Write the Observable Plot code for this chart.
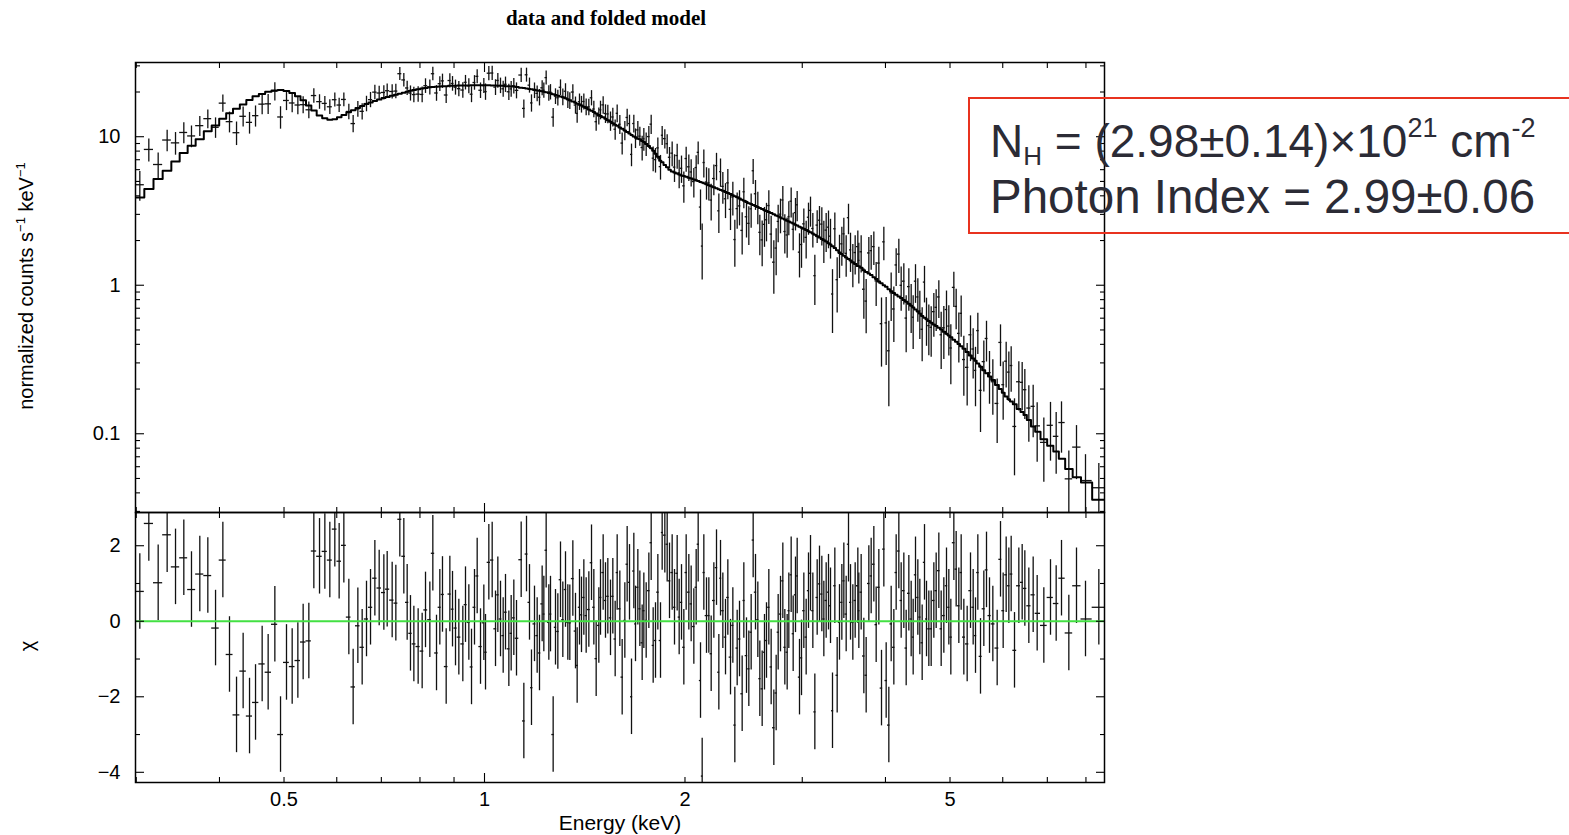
<!DOCTYPE html>
<html><head><meta charset="utf-8">
<script src="https://cdn.jsdelivr.net/npm/d3@7"></script>
<script src="https://cdn.jsdelivr.net/npm/@observablehq/plot@0.6"></script>
<style>
html,body{margin:0;padding:0;background:#fff;}
#page{position:relative;width:1569px;height:835px;overflow:hidden;background:#fff;font-family:"Liberation Sans",Arial,Helvetica,sans-serif;color:#000;}
.layer{position:absolute;left:0;top:0;}
.txt{position:absolute;white-space:nowrap;line-height:1;}
.sup{font-size:13px;vertical-align:8px;line-height:0;}
</style></head><body><div id="page">
<div class="layer" id="topPlot"></div>
<div class="layer" id="botPlot"></div>
<div class="txt" style="left:606px;top:8px;transform:translateX(-50%);font:bold 21px 'Liberation Serif','Times New Roman',serif;line-height:1;">data and folded model</div>
<div class="txt" style="left:26px;top:286px;transform:translate(-50%,-50%) rotate(-90deg);font-size:20px;">normalized counts s<span class="sup">−1</span> keV<span class="sup">−1</span></div>
<div class="txt" style="left:27px;top:646px;transform:translate(-50%,-50%) rotate(-90deg);font-size:20px;">χ</div>
<div class="txt" style="left:620px;top:812px;transform:translateX(-50%);font-size:21px;">Energy (keV)</div>
<div style="position:absolute;left:968px;top:97px;width:680px;height:137px;box-sizing:border-box;border:2px solid #e8321f;"></div>
<div class="txt" style="left:990px;top:118px;font-size:46px;color:#2b2b35;">N<span style="font-size:26px;vertical-align:-8px;line-height:0;">H</span> = (2.98±0.14)×10<span style="font-size:27px;vertical-align:20px;line-height:0;">21</span> cm<span style="font-size:27px;vertical-align:20px;line-height:0;">-2</span></div>
<div class="txt" style="left:990px;top:173px;font-size:47.5px;color:#2b2b35;">Photon Index = 2.99±0.06</div>
</div>
<script>
// ---- data (bin centre energy in keV) ----
const energy = [
0.3037,0.3133,0.3236,0.3338,0.3436,0.3536,0.3631,0.3737,0.3842,0.3946,0.4047,0.4141,0.4243,0.4341,0.4438,0.4531,0.4636,0.4733,0.4844,0.4940,
0.5043,0.5143,0.5245,0.5342,0.5448,0.5543,0.5653,0.5758,0.5858,0.5960,0.6050,0.6149,0.6256,0.6350,0.6454,0.6551,0.6650,0.6743,0.6845,0.6948,
0.7061,0.7143,0.7267,0.7360,0.7462,0.7566,0.7654,0.7742,0.7833,0.7950,0.8061,0.8155,0.8278,0.8364,0.8471,0.8569,0.8648,0.8759,0.8871,0.8953,
0.9046,0.9151,0.9278,0.9364,0.9473,0.9561,0.9660,0.9750,0.9863,0.9977,
1.0035,1.0151,1.0269,1.0388,1.0472,1.0569,1.0667,1.0753,1.0878,1.0966,1.1067,1.1170,1.1352,1.1457,1.1563,1.1683,1.1764,1.1887,1.1997,1.2094,
1.2206,1.2277,1.2376,1.2491,1.2563,1.2679,1.2782,1.2886,1.3005,1.3110,1.3232,1.3339,1.3431,1.3572,1.3697,1.3776,1.3888,1.3984,1.4098,1.4212,
1.4344,1.4477,1.4594,1.4712,1.4848,1.4934,1.5072,1.5194,1.5317,1.5459,1.5584,1.5711,1.5820,1.5966,1.6096,1.6245,1.6376,1.6509,1.6624,1.6758,
1.6855,1.6992,1.7110,1.7248,1.7348,1.7489,1.7651,1.7794,1.7917,1.8062,1.8209,1.8377,1.8483,1.8654,1.8806,1.8958,1.9133,1.9288,1.9467,1.9602,
1.9761,1.9921,2.0082,2.0268,2.0432,2.0622,2.0789,2.0933,2.1103,2.1225,2.1347,2.1545,2.1720,2.1896,2.2099,2.2303,2.2484,2.2614,2.2797,2.3008,
2.3194,2.3409,2.3599,2.3762,2.3955,2.4149,2.4372,2.4513,2.4740,2.4940,2.5142,2.5317,2.5522,2.5728,2.5907,2.6117,2.6328,2.6511,2.6726,2.6942,
2.7192,2.7412,2.7603,2.7826,2.8051,2.8246,2.8475,2.8639,2.8871,2.9072,2.9307,2.9477,2.9716,2.9922,3.0164,3.0408,3.0655,3.0868,3.1118,3.1334,
3.1588,3.1843,3.2101,3.2324,3.2586,3.2850,3.3078,3.3307,3.3577,3.3849,3.4123,3.4400,3.4638,3.4919,3.5202,3.5446,3.5733,3.6023,3.6356,
3.6482,3.6777,3.7118,3.7418,3.7765,3.8071,3.8424,3.8735,3.9094,3.9456,3.9776,4.0098,4.0469,4.0797,4.1175,4.1508,4.1893,4.2232,4.2623,4.2969,
4.3367,4.3718,4.4021,4.4378,4.4737,4.5047,4.5412,4.5780,4.6098,4.6471,4.6848,4.7282,4.7665,4.8106,4.8496,4.8945,4.9398,4.9798,5.0144,5.0667,
5.1077,5.1550,5.1968,5.2449,5.3057,5.3672,5.4169,5.4608,5.5050,5.5560,5.6204,5.6725,5.7316,5.7981,5.8856,5.9538,6.0090,6.0716,6.1279,6.1775,
6.2491,6.3434,6.4170,6.4764,6.5665,6.6657,6.7585,6.9161,7.0773,7.2174,7.3517,7.5405,7.7430,7.9877,8.3645];

// folded model (normalized counts s^-1 keV^-1)
const modelRate = [
3.9,4.45,5.19,5.9,6.82,7.77,8.7,9.6,10.9,11.9,13.2,14.4,15.4,16.5,17.7,18.7,19.4,20.1,20.5,20.6,
20.3,19.7,18.7,17.6,16.2,15.0,13.9,13.3,13.0,13.1,13.5,14.0,14.6,15.1,15.6,16.1,16.6,17.0,17.4,17.8,
18.2,18.5,18.9,19.2,19.5,19.8,20.1,20.4,20.6,20.9,21.1,21.3,21.5,21.6,21.7,21.8,21.9,21.9,22.0,22.0,
22.0,22.1,22.1,22.1,22.1,22.2,22.2,22.2,22.2,22.2,
22.2,22.2,22.1,22.1,22.0,22.0,22.0,21.9,21.9,21.8,21.8,21.65,21.4,21.25,21.1,20.95,20.85,20.7,20.5,20.4,
20.2,20.1,19.95,19.75,19.6,19.35,19.1,18.9,18.65,18.45,18.15,17.85,17.6,17.25,16.9,16.7,16.4,16.2,15.9,15.6,
15.25,14.95,14.65,14.35,14.0,13.8,13.5,13.2,12.9,12.6,12.3,12.05,11.85,11.55,11.3,11.0,10.75,10.5,10.25,10.05,
9.9,9.7,9.6,9.37,9.2,8.94,8.66,8.37,8.05,7.68,7.32,6.89,6.72,6.46,6.22,6.0,5.84,5.75,5.65,5.57,
5.49,5.43,5.37,5.29,5.23,5.15,5.09,5.03,4.96,4.91,4.86,4.78,4.71,4.64,4.56,4.49,4.43,4.38,4.32,4.24,
4.18,4.11,4.04,3.98,3.91,3.84,3.76,3.71,3.63,3.57,3.52,3.47,3.41,3.36,3.31,3.26,3.20,3.16,3.11,3.06,
3.00,2.95,2.91,2.86,2.81,2.77,2.72,2.69,2.64,2.60,2.55,2.52,2.48,2.44,2.40,2.35,2.31,2.27,2.23,2.19,
2.14,2.10,2.05,2.01,1.97,1.92,1.88,1.83,1.78,1.72,1.66,1.62,1.58,1.54,1.50,1.47,1.43,1.39,1.35,
1.34,1.31,1.26,1.23,1.20,1.17,1.13,1.10,1.06,1.03,1.00,0.975,0.94,0.912,0.886,0.864,0.841,0.82,0.796,0.775,
0.75,0.727,0.708,0.686,0.665,0.645,0.62,0.603,0.59,0.575,0.56,0.545,0.531,0.517,0.503,0.487,0.472,0.458,0.447,0.43,
0.417,0.402,0.388,0.373,0.355,0.336,0.321,0.31,0.297,0.283,0.268,0.256,0.243,0.23,0.213,0.2,0.189,0.178,0.171,0.165,
0.158,0.147,0.14,0.134,0.124,0.112,0.103,0.092,0.083,0.076,0.068,0.058,0.051,0.047,0.036];

// observed data points
const dataRate = [
4.75,8.21,6.50,9.50,9.09,10.68,10.12,11.87,13.23,11.57,16.83,12.63,10.64,13.72,12.49,13.86,16.57,16.65,20.27,13.58,
17.54,16.87,16.35,16.43,15.18,18.93,17.23,16.76,15.91,17.75,16.34,17.82,14.79,12.26,15.38,14.82,16.72,17.77,19.96,19.69,
19.86,20.40,20.16,20.29,26.57,24.12,21.29,19.67,19.22,19.35,19.26,22.05,21.60,26.56,19.70,22.75,23.76,19.09,23.90,22.83,
21.55,21.06,20.62,23.25,22.02,19.33,23.17,25.49,20.55,22.10,
20.12,26.77,26.84,21.57,23.93,22.16,21.02,22.54,20.07,20.98,22.04,20.51,26.02,15.51,26.12,22.24,16.89,20.53,19.58,18.44,
21.35,20.56,25.0,19.68,20.05,13.54,18.74,18.30,21.52,18.55,20.24,17.78,17.51,19.99,16.34,14.35,17.21,16.56,17.26,15.91,
15.88,18.28,15.37,12.62,13.80,15.17,16.38,14.34,14.24,12.77,13.58,11.23,14.38,12.13,9.06,11.03,13.48,12.26,7.60,12.27,
9.80,11.11,10.09,8.46,9.68,8.97,10.02,12.15,7.17,7.01,8.41,6.29,10.23,9.71,8.97,7.27,7.75,6.24,7.47,5.71,
6.13,4.67,7.13,6.27,5.79,4.99,6.20,7.85,3.36,1.835,6.70,4.96,4.89,3.745,5.23,6.39,3.17,5.82,4.63,3.82,
4.89,3.245,3.93,2.03,3.28,3.42,2.34,4.26,2.89,2.61,3.27,5.90,4.13,3.39,2.27,2.02,2.57,2.76,3.44,2.21,
1.43,1.78,2.69,3.01,3.75,2.30,2.18,2.90,3.68,2.38,3.08,3.48,1.67,1.88,2.59,2.10,2.87,3.19,2.41,1.16,
2.54,2.74,2.58,2.05,2.35,2.46,2.14,0.873,2.40,1.09,1.64,1.90,2.22,1.64,2.85,1.73,1.42,1.66,1.82,
1.47,1.68,0.940,0.782,1.65,1.71,1.82,1.07,1.41,0.551,1.96,0.558,0.362,0.889,0.692,1.37,1.62,0.999,1.065,0.601,
0.979,0.743,0.609,1.065,0.834,0.671,0.505,1.05,0.603,0.535,0.521,0.664,0.710,0.834,0.464,0.517,0.686,0.531,0.378,0.967,
0.720,0.474,0.647,0.316,0.280,0.464,0.372,0.267,0.495,0.196,0.306,0.438,0.258,0.224,0.160,0.412,0.214,0.308,0.260,0.288,
0.112,0.224,0.222,0.198,0.149,0.153,0.113,0.0875,0.114,0.0961,0.119,0.0497,0.0813,0.0484,0.0433];

// 1-sigma error on each data point
const dataErr = [
1.08,1.45,1.28,1.57,1.58,1.73,1.69,1.82,1.92,1.82,2.24,2.02,1.92,2.11,2.08,2.25,2.51,2.56,2.85,2.34,
2.55,2.37,2.27,2.13,1.96,2.11,1.94,1.87,1.80,1.91,1.78,1.90,1.76,1.63,1.86,1.85,2.00,2.09,2.24,2.15,
2.19,2.23,2.25,2.27,2.62,2.51,2.38,2.30,2.29,2.31,2.32,2.49,2.48,2.76,2.38,2.56,2.62,2.35,2.64,2.58,
2.50,2.48,2.46,2.61,2.54,2.38,2.61,2.74,2.46,2.55,
2.54,2.93,2.92,2.62,2.75,2.65,2.58,2.67,2.52,2.57,2.63,2.53,2.83,2.18,2.82,2.59,2.25,2.47,2.40,2.33,
2.49,2.44,2.68,2.37,2.38,1.94,2.27,2.23,2.61,2.41,2.49,2.32,2.28,2.41,2.16,2.01,2.18,2.13,2.15,2.05,
2.02,2.15,1.95,1.75,1.81,2.17,2.23,2.06,2.03,1.90,1.94,1.75,1.96,1.78,1.52,1.65,1.81,1.70,1.32,1.67,
1.48,1.56,1.48,1.60,1.70,1.61,1.68,1.82,1.37,1.32,1.41,1.19,1.49,1.43,1.34,1.19,1.48,1.32,1.43,1.24,
1.28,1.11,1.36,1.27,1.21,1.12,1.24,1.38,1.02,0.75,1.43,1.22,1.20,1.04,1.22,1.34,0.94,1.26,1.12,1.01,
1.13,0.91,1.00,0.71,0.90,0.91,0.74,0.99,0.81,0.76,0.85,1.13,0.94,0.84,0.69,0.69,0.77,0.80,0.88,0.70,
0.56,0.62,0.76,0.79,0.88,0.68,0.66,0.75,0.84,0.67,0.76,0.80,0.55,0.58,0.67,0.60,0.70,0.73,0.63,0.43,
0.63,0.65,0.74,0.65,0.69,0.70,0.64,0.40,0.66,0.44,0.53,0.56,0.60,0.51,0.66,0.51,0.46,0.49,0.50,
0.45,0.47,0.35,0.31,0.45,0.45,0.46,0.35,0.39,0.27,0.50,0.27,0.21,0.32,0.28,0.39,0.42,0.33,0.33,0.25,
0.31,0.27,0.24,0.31,0.27,0.24,0.20,0.29,0.215,0.20,0.194,0.217,0.221,0.236,0.193,0.201,0.228,0.197,0.164,0.258,
0.219,0.175,0.200,0.137,0.126,0.158,0.138,0.115,0.153,0.094,0.115,0.134,0.100,0.0907,0.0739,0.129,0.0906,0.105,0.0949,0.098,
0.0599,0.0816,0.0793,0.0733,0.0612,0.059,0.0486,0.0404,0.0486,0.0427,0.045,0.0268,0.0322,0.0239,0.0197];

// residuals (chi)
const chiValue = [
0.79,2.59,1.02,2.29,1.44,1.68,0.84,1.25,1.21,-0.18,1.62,-0.88,-2.48,-1.32,-2.51,-2.15,-1.13,-1.35,-0.08,-3.0,
-1.09,-1.2,-1.04,-0.55,-0.52,1.86,1.72,1.85,1.62,2.44,1.59,2.01,0.11,-1.74,-0.12,-0.69,0.06,0.37,1.14,0.88,
0.76,0.85,0.56,0.48,2.7,1.72,0.5,-0.32,-0.6,-0.67,-0.79,0.3,0.04,1.8,-0.84,0.37,0.71,-1.2,0.72,0.32,
-0.18,-0.42,-0.6,0.44,-0.03,-1.21,0.37,1.2,-0.67,-0.04,
-0.82,1.56,1.62,-0.2,0.7,0.06,-0.38,0.24,-0.73,-0.32,0.09,-0.45,1.63,-2.64,1.78,0.5,-1.76,-0.07,-0.38,-0.84,
0.46,0.19,1.88,-0.03,0.19,-3.0,-0.16,-0.27,1.1,0.04,0.84,-0.03,-0.04,1.13,-0.26,-1.17,0.37,0.17,0.63,0.15,
0.31,1.55,0.37,-0.99,-0.11,0.63,1.29,0.55,0.66,0.09,0.66,-0.47,1.29,0.33,-1.48,0.02,1.51,1.03,-2.0,1.33,
-0.07,0.9,0.33,-0.57,0.28,0.02,0.81,2.08,-0.64,-0.51,0.77,-0.51,2.35,2.28,2.04,1.07,1.29,0.37,1.27,0.11,
0.5,-0.69,1.29,0.77,0.46,-0.14,0.9,2.04,-1.57,-4.1,1.29,0.15,0.15,-0.86,0.55,1.42,-1.35,1.14,0.28,-0.42,
0.63,-0.95,-0.11,-2.75,-0.71,-0.47,-1.92,0.55,-0.91,-1.26,-0.29,2.15,0.77,0.04,-1.52,-1.79,-0.82,-0.51,0.37,-1.21,
-2.82,-1.9,-0.29,0.19,1.07,-0.69,-0.82,0.28,1.23,-0.33,0.7,1.2,-1.48,-0.97,0.28,-0.42,0.81,1.27,0.28,-2.4,
0.63,0.99,0.72,0.06,0.55,0.77,0.41,-2.37,0.94,-1.43,-0.03,0.5,1.07,0.19,2.04,0.5,-0.03,0.55,0.94,
0.28,0.77,-0.92,-1.43,1.0,1.2,1.51,-0.09,0.9,-1.77,1.91,-1.57,-2.75,-0.07,-0.69,1.29,1.86,0.55,0.81,-0.71,
0.74,0.06,-0.42,1.23,0.63,0.11,-0.57,1.56,0.06,-0.2,-0.2,0.55,0.81,1.34,-0.2,0.15,0.94,0.37,-0.42,2.08,
1.38,0.41,1.29,-0.42,-0.6,0.81,0.37,-0.38,1.29,-0.93,0.33,1.36,0.15,-0.07,-0.71,1.64,0.28,1.23,0.94,1.25,
-0.77,0.94,1.03,0.87,0.41,0.7,0.21,-0.11,0.63,0.47,1.14,-0.31,0.94,0.06,0.37];

// tick values / labels
const xMajorTicks = [1];
const xMinorTicks = [0.3,0.4,0.5,0.6,0.7,0.8,0.9,2,3,4,5,6,7,8];
const xTickLabels = [0.5,1,2,5];
const rateMajorTicks = [0.1,1,10];
const rateMinorTicks = [0.03,0.04,0.05,0.06,0.07,0.08,0.09,0.2,0.3,0.4,0.5,0.6,0.7,0.8,0.9,2,3,4,5,6,7,8,9,20,30];
const rateTickLabels = [0.1,1,10];
const chiMajorTicks = [-4,-2,0,2];
const chiMinorTicks = [-3,-1,1];
const chiTickLabels = [-4,-2,0,2];

// ---- build bins (edges at geometric midpoints between centres) ----
const n = energy.length;
const bins = energy.map((e, i) => {
  const lo = i > 0 ? Math.sqrt(energy[i - 1] * e) : e / Math.sqrt(energy[1] / e);
  const hi = i < n - 1 ? Math.sqrt(e * energy[i + 1]) : e * Math.sqrt(e / energy[i - 1]);
  return {e, lo, hi, model: modelRate[i], rate: dataRate[i], err: dataErr[i], chi: chiValue[i]};
});
const modelSteps = bins.flatMap(b => [{x: b.lo, y: b.model}, {x: b.hi, y: b.model}]);

const xDomain = [0.2992, 8.53];
const fontFamily = '"Liberation Sans", Arial, Helvetica, sans-serif';
const minus = d => d < 0 ? "\u2212" + (-d) : String(d);

function boxTicks(xs, ys, len) {
  const o = {fill: "none", label: null, tickSize: len, strokeWidth: 1.1};
  return [
    Plot.axisX(xs, {...o, anchor: "bottom", dy: -len}),
    Plot.axisX(xs, {...o, anchor: "top", dy: len}),
    Plot.axisY(ys, {...o, anchor: "left", dx: len}),
    Plot.axisY(ys, {...o, anchor: "right", dx: -len})
  ];
}

const common = {
  width: 1569, height: 835, marginLeft: 135, marginRight: 465,
  style: {background: "transparent", fontFamily, color: "#000", overflow: "visible"}
};

const barStyle = {stroke: "#111", strokeWidth: 1.3, clip: true};

const topSvg = Plot.plot({
  ...common,
  marginTop: 62, marginBottom: 323,
  x: {type: "log", domain: xDomain, label: null},
  y: {type: "log", domain: [0.0295, 31.6], label: null},
  marks: [
    Plot.ruleX(bins, {x: "e", y1: d => d.rate - d.err, y2: d => d.rate + d.err, ...barStyle}),
    Plot.ruleY(bins, {y: "rate", x1: "lo", x2: "hi", ...barStyle}),
    Plot.line(modelSteps, {x: "x", y: "y", stroke: "#000", strokeWidth: 2, clip: true}),
    Plot.frame({stroke: "#000", strokeWidth: 1.5}),
    ...boxTicks(xMajorTicks, rateMajorTicks, 9),
    ...boxTicks(xMinorTicks, rateMinorTicks, 5),
    Plot.axisY(rateTickLabels, {anchor: "left", tickSize: 0, tickPadding: 15, tickFormat: d => String(d), fontSize: 20, label: null})
  ]
});

const botSvg = Plot.plot({
  ...common,
  marginTop: 512, marginBottom: 53,
  x: {type: "log", domain: xDomain, label: null},
  y: {domain: [-4.27, 2.88], label: null},
  marks: [
    Plot.ruleX(bins, {x: "e", y1: d => d.chi - 1, y2: d => d.chi + 1, ...barStyle}),
    Plot.ruleY(bins, {y: "chi", x1: "lo", x2: "hi", ...barStyle}),
    Plot.ruleY([0], {stroke: "#43e043", strokeWidth: 2}),
    Plot.frame({stroke: "#000", strokeWidth: 1.5}),
    ...boxTicks(xMajorTicks, chiMajorTicks, 9),
    ...boxTicks(xMinorTicks, chiMinorTicks, 5),
    Plot.axisY(chiTickLabels, {anchor: "left", tickSize: 0, tickPadding: 15, tickFormat: minus, fontSize: 20, label: null}),
    Plot.axisX(xTickLabels, {anchor: "bottom", tickSize: 0, tickPadding: 9, tickFormat: d => String(d), fontSize: 20, label: null})
  ]
});

document.getElementById("topPlot").appendChild(topSvg);
document.getElementById("botPlot").appendChild(botSvg);
</script>
</body></html>
